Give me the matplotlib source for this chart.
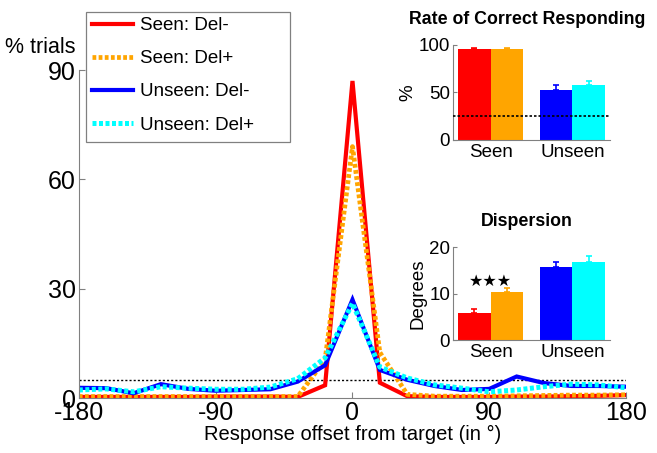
import numpy as np
import matplotlib.pyplot as plt
from matplotlib.patches import Rectangle

plt.rcParams['font.family'] = ['Liberation Sans', 'DejaVu Sans']
plt.rcParams['axes.unicode_minus'] = False

# response offset bins (degrees)
offsets = np.arange(-180, 181, 18)

seen_del_minus = [0.3, 0.3, 0.3, 0.3, 0.3, 0.4, 0.4, 0.4, 0.3, 3.5, 87,
                  4.2, 0.5, 0.3, 0.3, 0.3, 0.4, 0.4, 0.5, 0.6, 0.8]
seen_del_plus = [0.4, 0.4, 0.4, 0.4, 0.4, 0.4, 0.4, 0.4, 0.4, 10.5, 69,
                 12.5, 1.0, 0.5, 0.5, 0.5, 0.6, 0.7, 0.8, 0.8, 0.9]
unseen_del_minus = [2.8, 2.7, 1.3, 3.8, 2.5, 2.0, 2.2, 2.4, 4.5, 9.0, 27,
                    7.7, 5.0, 3.3, 2.2, 2.5, 5.9, 4.1, 3.3, 3.3, 3.1]
unseen_del_plus = [2.2, 2.5, 1.7, 3.1, 2.7, 2.4, 2.4, 3.0, 5.3, 11.0, 26,
                   8.5, 5.5, 3.6, 2.7, 1.7, 2.2, 3.1, 3.8, 3.6, 2.8]
chance_main = 5

groups = ['Seen', 'Unseen']
correct_vals = [96, 96, 53, 58]
correct_err = [1, 1, 4.5, 4.5]
chance_correct = 25
disp_vals = [5.8, 10.3, 15.8, 16.7]
disp_err = [0.8, 0.9, 1.1, 1.4]

colors = ['#ff0000', '#ffa500', '#0000ff', '#00ffff']
labels = ['Seen: Del-', 'Seen: Del+', 'Unseen: Del-', 'Unseen: Del+']
spine_col = '#808080'

fig = plt.figure(figsize=(6.57, 4.53), dpi=100)
ax = fig.add_axes([0.120, 0.1214, 0.833, 0.724])

dot = (0, (0.8, 0.5))
series = [seen_del_minus, seen_del_plus, unseen_del_minus, unseen_del_plus]
styles = ['-', dot, '-', dot]
widths = [3.0, 3.4, 3.0, 3.6]
for ys, c, ls, lw, lab in zip(series, colors, styles, widths, labels):
    ax.plot(offsets, ys, color=c, linestyle=ls, lw=lw, label=lab,
            dash_capstyle='butt', solid_joinstyle='miter')
ax.axhline(chance_main, color='black', linestyle=(0, (1.5, 1.5)), lw=1, zorder=1)

ax.set_xlim(-180, 180)
ax.set_ylim(0, 90)
ax.set_xticks([-180, -90, 0, 90, 180])
ax.set_yticks([0, 30, 60, 90])
ax.tick_params(direction='in', length=4, labelsize=18, color=spine_col, pad=2)
for s in ['top', 'right']:
    ax.spines[s].set_visible(False)
for s in ['left', 'bottom']:
    ax.spines[s].set_color(spine_col)
ax.set_xlabel('Response offset from target (in °)', fontsize=14.5, labelpad=0)
fig.text(0.008, 0.872, '% trials', fontsize=15.5, ha='left', va='bottom')

# legend with a MATLAB-like wide box
leg = ax.legend(loc='upper left', bbox_to_anchor=(0.140, 0.962),
                bbox_transform=fig.transFigure, fontsize=13.5, frameon=False,
                handlelength=2.2, handletextpad=0.35, borderaxespad=0,
                labelspacing=0.85, borderpad=0)
fig.patches.append(Rectangle((86 / 657, 1 - 142 / 453), 204 / 657, 130 / 453,
                             transform=fig.transFigure, fill=False,
                             edgecolor=spine_col, lw=0.9, zorder=5))


def bar_inset(rect, vals, errs, ylim, yticks, ylabel, title):
    a = fig.add_axes(rect)
    pos = [0.8, 1.2, 1.8, 2.2]
    a.bar(pos, vals, width=0.4, color=colors, zorder=2)
    for p, v, e, c in zip(pos, vals, errs, colors):
        a.errorbar(p, v, yerr=[[0], [e]], color=c, capsize=2, lw=1.2,
                   capthick=1.2, zorder=3)
    a.set_xlim(0.54, 2.46)
    a.set_ylim(*ylim)
    a.set_yticks(yticks)
    a.set_xticks([1, 2])
    a.set_xticklabels(groups)
    a.tick_params(axis='x', length=0, labelsize=13.5, pad=3)
    a.tick_params(axis='y', direction='in', length=3, labelsize=13.5,
                  color=spine_col, pad=2)
    for s in ['top', 'right']:
        a.spines[s].set_visible(False)
    for s in ['left', 'bottom']:
        a.spines[s].set_color(spine_col)
    a.set_ylabel(ylabel, fontsize=13.5, labelpad=2)
    a.set_title(title, fontsize=12.8, fontweight='bold', pad=15)
    return a


ax1 = bar_inset([0.6895, 0.691, 0.239, 0.21], correct_vals, correct_err,
                (0, 100), [0, 50, 100], '%', 'Rate of Correct Responding')
ax1.title.set_x(0.47)
ax1.axhline(chance_correct, color='black', linestyle=(0, (1.5, 1.2)), lw=1.2,
            zorder=4)

ax2 = bar_inset([0.6895, 0.2494, 0.239, 0.205], disp_vals, disp_err,
                (0, 20), [0, 10, 20], 'Degrees', 'Dispersion')
ax2.title.set_x(0.47)
ax2.text(1.0, 12.6, '★★★', ha='center', va='center', fontsize=11.5,
         family=['DejaVu Sans'])

fig.savefig('out.png', dpi=100)
